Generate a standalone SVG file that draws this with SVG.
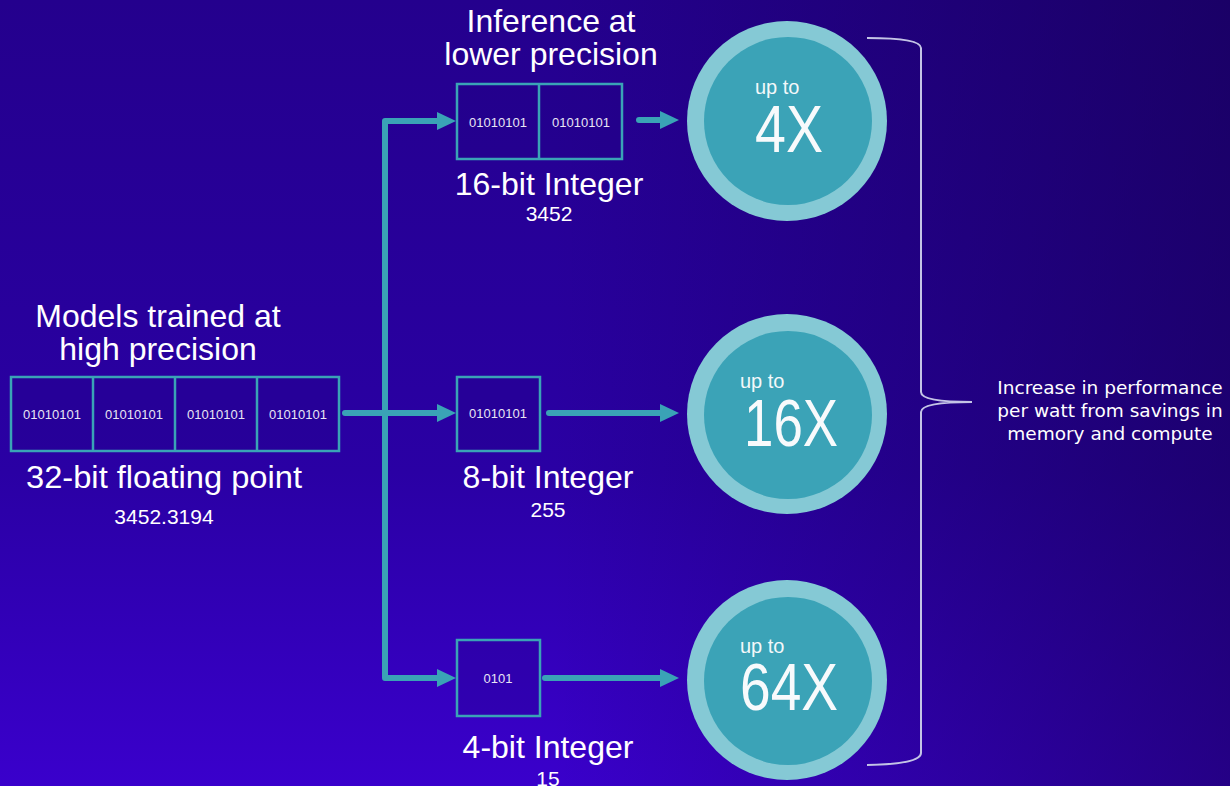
<svg xmlns="http://www.w3.org/2000/svg" width="1230" height="786" viewBox="0 0 1230 786">
<defs>
<linearGradient id="bgv" x1="0" y1="0" x2="0" y2="1">
<stop offset="0" stop-color="#24008d"/>
<stop offset="0.6" stop-color="#2a00a4"/>
<stop offset="1" stop-color="#3a00cc"/>
</linearGradient>
<linearGradient id="bgh" x1="0" y1="0" x2="1" y2="0">
<stop offset="0" stop-color="#100040" stop-opacity="0"/>
<stop offset="0.45" stop-color="#100040" stop-opacity="0"/>
<stop offset="1" stop-color="#100040" stop-opacity="0.5"/>
</linearGradient>
<style>
.box{fill:#1e0080;fill-opacity:0.25;stroke:#3aa3b6;stroke-width:2.5}
.div{stroke:#3aa3b6;stroke-width:2.5}
.bin{font-family:"Liberation Sans",Arial,sans-serif;font-size:13px;fill:#e8e4f4;text-anchor:middle}
.title{font-family:"Liberation Sans",Arial,sans-serif;font-size:32px;fill:#ffffff;text-anchor:middle}
.val{font-family:"Liberation Sans",Arial,sans-serif;font-size:21px;fill:#ffffff;text-anchor:middle}
.con{fill:none;stroke:#3aa3b6;stroke-width:6;stroke-linecap:round;stroke-linejoin:round}
.head{fill:#3aa3b6}
.outer{fill:#85c9d5}
.inner{fill:#3ba3b7}
.upto{font-family:"Liberation Sans",Arial,sans-serif;font-size:20px;fill:#f4f8fa}
.big{font-family:"Liberation Sans",Arial,sans-serif;font-size:66px;fill:#f8fafc}
.note{font-family:"DejaVu Sans",Verdana,sans-serif;font-size:18.5px;fill:#ffffff;text-anchor:middle}
</style>
</defs>
<rect width="1230" height="786" fill="url(#bgv)"/>
<rect width="1230" height="786" fill="url(#bgh)"/>

<g id="connectors">
<path class="con" d="M345,413 L438,413"/>
<path class="con" d="M441,121 L385,121 L385,678 L441,678"/>
<path class="con" d="M639,120 L662,120"/>
<path class="con" d="M549,413 L662,413"/>
<path class="con" d="M545,678 L662,678"/>
<path class="head" d="M437,112 L456,121 L437,130 Z"/>
<path class="head" d="M437,404 L456,413 L437,422 Z"/>
<path class="head" d="M437,669 L456,678 L437,687 Z"/>
<path class="head" d="M660,111 L679,120 L660,129 Z"/>
<path class="head" d="M660,404 L679,413 L660,422 Z"/>
<path class="head" d="M660,669 L679,678 L660,687 Z"/>
</g>

<g id="fp32">
<text class="title" x="158" y="327">Models trained at</text>
<text class="title" x="158" y="360">high precision</text>
<rect class="box" x="11" y="377" width="328" height="74"/>
<line class="div" x1="93" y1="377" x2="93" y2="451"/>
<line class="div" x1="175" y1="377" x2="175" y2="451"/>
<line class="div" x1="257" y1="377" x2="257" y2="451"/>
<text class="bin" x="52" y="419">01010101</text>
<text class="bin" x="134" y="419">01010101</text>
<text class="bin" x="216" y="419">01010101</text>
<text class="bin" x="298" y="419">01010101</text>
<text class="title" x="164" y="488" textLength="276" lengthAdjust="spacingAndGlyphs">32-bit floating point</text>
<text class="val" x="164" y="524">3452.3194</text>
</g>

<g id="int16">
<text class="title" x="551" y="32">Inference at</text>
<text class="title" x="551" y="65">lower precision</text>
<rect class="box" x="457" y="84" width="165" height="75"/>
<line class="div" x1="539" y1="84" x2="539" y2="159"/>
<text class="bin" x="498" y="127">01010101</text>
<text class="bin" x="581" y="127">01010101</text>
<text class="title" x="549" y="195">16-bit Integer</text>
<text class="val" x="549" y="221">3452</text>
</g>

<g id="int8">
<rect class="box" x="457" y="377" width="83" height="74"/>
<text class="bin" x="498" y="418">01010101</text>
<text class="title" x="548" y="488">8-bit Integer</text>
<text class="val" x="548" y="517">255</text>
</g>

<g id="int4">
<rect class="box" x="457" y="640" width="83" height="76"/>
<text class="bin" x="498" y="683">0101</text>
<text class="title" x="548" y="758">4-bit Integer</text>
<text class="val" x="548" y="786">15</text>
</g>

<g id="c4x">
<circle class="outer" cx="787" cy="121" r="100"/>
<circle class="inner" cx="788" cy="121" r="84"/>
<text class="upto" x="755" y="94">up to</text>
<text class="big" x="755" y="152" textLength="68" lengthAdjust="spacingAndGlyphs">4X</text>
</g>

<g id="c16x">
<circle class="outer" cx="787" cy="414" r="100"/>
<circle class="inner" cx="788" cy="415" r="84"/>
<text class="upto" x="740" y="388">up to</text>
<text class="big" x="744" y="446" textLength="94" lengthAdjust="spacingAndGlyphs">16X</text>
</g>

<g id="c64x">
<circle class="outer" cx="787" cy="680" r="100"/>
<circle class="inner" cx="788" cy="681" r="84"/>
<text class="upto" x="740" y="653">up to</text>
<text class="big" x="740" y="710" textLength="98" lengthAdjust="spacingAndGlyphs">64X</text>
</g>

<g id="brace">
<path d="M867,38 Q921,38 921,48 L921,392 Q921,402 972,402 Q921,402 921,412 L921,753 Q921,764 867,765" fill="none" stroke="#c4c4e6" stroke-width="2"/>
<text class="note" x="1110" y="394">Increase in performance</text>
<text class="note" x="1110" y="417">per watt from savings in</text>
<text class="note" x="1110" y="440">memory and compute</text>
</g>
</svg>
